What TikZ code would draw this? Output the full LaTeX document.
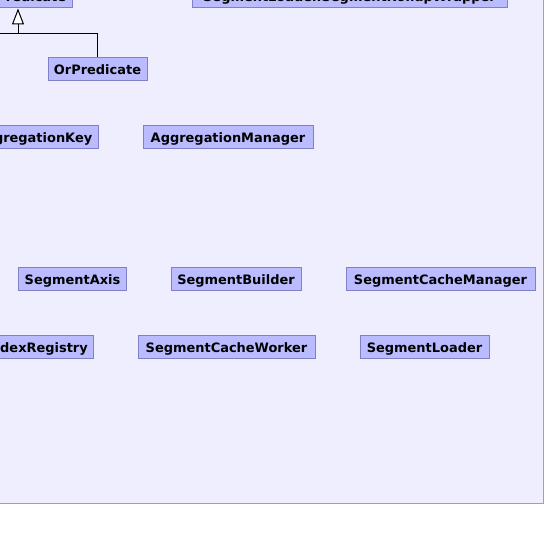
\documentclass[tikz,border=0pt]{standalone}
\usepackage{fontspec}
\setmainfont{DejaVu Sans}
\usepackage{tikz}
\usetikzlibrary{arrows.meta}

\definecolor{pkgfill}{RGB}{238,238,255}
\definecolor{pkgline}{RGB}{160,160,180}
\definecolor{clsfill}{RGB}{187,187,255}
\definecolor{clsline}{RGB}{128,128,200}

\tikzset{
  cls/.style={rectangle, draw=clsline, fill=clsfill, line width=1bp,
    minimum height=23bp, inner xsep=0pt, inner ysep=0pt,
    text height=12.5bp, text depth=1.5bp,
    font=\fontsize{13}{15}\selectfont\bfseries},
  gen/.style={draw=black, line width=1bp, -{Triangle[open, width=12bp, length=16bp, fill=white]}}
}

\begin{document}
\begin{tikzpicture}[x=1bp, y=-1bp]
                    \useasboundingbox (0,0) rectangle (544,539);
                    \fill[white] (0,0) rectangle (544,539);
                    \draw[fill=pkgfill, draw=pkgline, line width=1bp] (-20,-30) rectangle (543,503);
                    \node[cls, minimum width=108bp] (listPred) at (18,-3.5) {ListPredicate};
                    \node[cls, minimum width=315bp] (rollupWrapper) at (349.5,-3.5) {SegmentLoader.SegmentRollupWrapper};
                    \node[cls, minimum width=99bp] (orPred) at (97.5,69.5) {OrPredicate};
                    \node[cls, minimum width=129bp] (aggKey) at (33.5,137.5) {AggregationKey};
                    \node[cls, minimum width=170bp] (aggManager) at (228,137.5) {AggregationManager};
                    \node[cls, minimum width=107bp] (segAxis) at (72.5,278.5) {SegmentAxis};
                    \node[cls, minimum width=130bp] (segBuilder) at (236,278.5) {SegmentBuilder};
                    \node[cls, minimum width=189bp] (cacheManager) at (440.5,278.5) {SegmentCacheManager};
                    \node[cls, minimum width=221bp] (indexRegistry) at (-17.5,346.5) {SegmentCacheIndexRegistry};
                    \node[cls, minimum width=177bp] (cacheWorker) at (226.5,346.5) {SegmentCacheWorker};
                    \node[cls, minimum width=129bp] (segLoader) at (424.5,346.5) {SegmentLoader};
                    \coordinate (genJoin) at (18,33.5);
                    \coordinate (genOther) at (-10,33.5);
                    \draw[gen] (orPred.north) |- (genJoin) -- (listPred.south);
                    \draw[line width=1bp] (genOther) -- (genJoin);
                \end{tikzpicture}
\end{document}
